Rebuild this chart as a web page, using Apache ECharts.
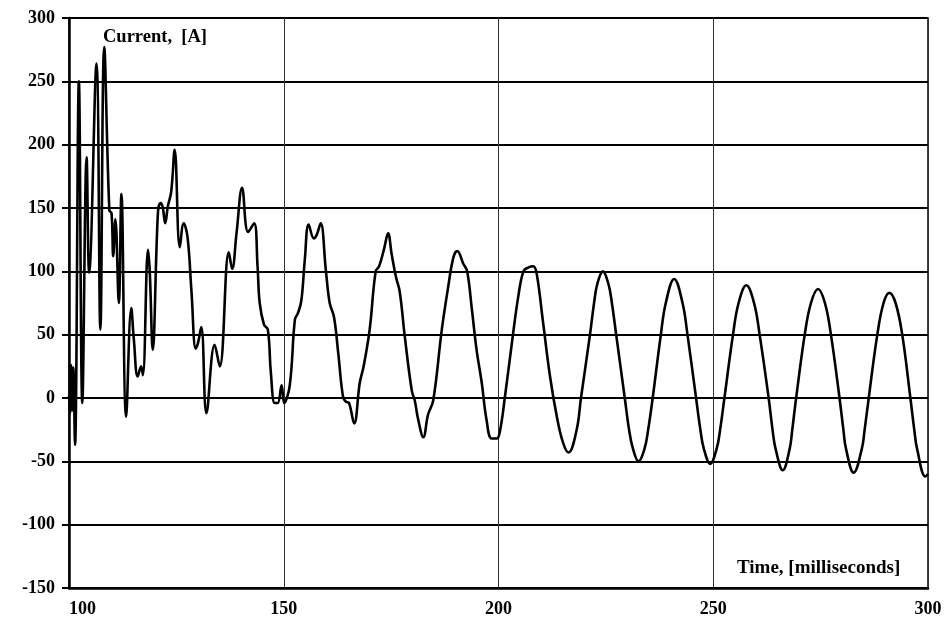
<!DOCTYPE html>
<html>
<head>
<meta charset="utf-8">
<script src="https://cdn.jsdelivr.net/npm/echarts@6/dist/echarts.min.js"></script>
<style>
  html, body { margin: 0; padding: 0; background: #fff; }
  #chart { width: 952px; height: 626px; }
</style>
</head>
<body>
<div id="chart"></div>
<script>
// Time axis samples, milliseconds
const timeMs = [
  100.0, 100.25, 100.5, 100.75, 101.0, 101.4, 102.3, 103.1, 104.1, 104.7,
  106.4, 107.3, 108.2, 109.4, 109.9, 110.3, 110.8, 111.6, 112.2, 113.3,
  114.5, 115.1, 116.0, 116.8, 117.2, 118.4, 118.8, 119.5, 120.7, 121.3,
  121.8, 122.4, 123.0, 123.8, 124.6, 125.8, 126.7, 127.6, 128.5, 129.5,
  130.0, 130.8, 132.0, 133.9, 135.1, 137.2, 138.0, 139.0, 140.3, 141.7,
  143.1, 143.9, 144.4, 145.4, 146.3, 147.0, 147.9, 148.6, 149.5, 150.1,
  151.4, 152.6, 153.3, 154.1, 154.9, 155.8, 157.0, 157.7, 158.6, 159.8,
  160.7, 161.7, 162.7, 163.8, 164.5, 165.2, 166.4, 167.7, 168.6, 170.0,
  171.4, 172.2, 173.3, 174.3, 175.1, 176.1, 177.0, 178.2, 179.8, 180.5,
  181.3, 182.5, 183.6, 184.8, 186.8, 188.3, 189.5, 190.4, 191.8, 192.7,
  193.8, 194.9, 196.1, 197.2, 198.4, 199.6, 200.4, 201.5, 203.1, 204.6,
  205.8, 206.9, 208.1, 208.9, 210.4, 212.0, 213.6, 215.0, 216.3,
  218.2, 219.2, 221.3, 222.25, 223.0, 224.3, 225.6, 226.4, 227.4, 229.4,
  230.4, 231.3, 232.6, 234.0, 234.85, 235.9, 237.8, 238.95, 240.9, 242.85,
  244.0, 246.0, 247.0, 247.8, 249.3, 250.8, 251.6, 252.6, 254.6, 255.9,
  257.7, 259.5, 260.8, 262.9, 263.8, 264.5, 266.2, 267.8, 268.4, 269.3,
  271.3, 272.75, 274.4, 276.0, 277.4, 279.4, 280.3, 280.9, 282.7, 284.6,
  285.25, 286.2, 288.2, 289.65, 291.0, 292.45, 294.0, 295.9, 296.8, 297.45,
  299.4, 300.0
];

// Measured current, amperes
const currentA = [
  2, -12, 26, -10, 24, -37, 250, -4, 190, 99,
  264, 54, 277, 148, 146, 112, 141, 75, 161, -15,
  71, 46, 17, 25, 18, 117, 100, 38, 146, 154,
  151, 138, 151, 163, 196, 119, 138, 127, 85, 39,
  43, 56, -12, 42, 25, 115, 102, 130, 166, 131,
  138, 104, 75, 58, 54, 20, -4, -4, 10, -4,
  10, 62, 67, 77, 109, 137, 126, 129, 138, 101,
  75, 64, 35, 1, -3, -4, -20, 12, 25, 54,
  100, 104, 117, 130, 114, 96, 84, 48, 6, -2,
  -17, -31, -13, -2, 54, 88, 111, 116, 106, 100,
  70, 38, 12, -17, -32, -32, -25, 1, 43, 80,
  100, 103, 104, 98, 59, 17, -15, -35, -43,
  -25, 0, 50, 75, 90, 100, 90, 75, 50, 0,
  -25, -40, -50, -40, -25, 0, 50, 75, 94, 75,
  50, 0, -25, -40, -52, -40, -25, 0, 50, 75,
  89, 75, 50, 0, -25, -40, -57, -40, -25, 0,
  50, 75, 86, 75, 50, 0, -25, -40, -59, -40,
  -25, 0, 50, 75, 83, 75, 50, 0, -25, -40,
  -62, -60
];

// Axis ranges and tick spacing
const xTicks = { min: 100, max: 300, step: 50 };
const yTicks = { min: -150, max: 300, step: 50 };

const yAxisName = 'Current,  [A]';
const xAxisName = 'Time, [milliseconds]';

const serif = "'Liberation Serif', 'Times New Roman', serif";

const points = timeMs.map((t, i) => [t, currentA[i]]);

const chart = echarts.init(document.getElementById('chart'), null, { renderer: 'canvas' });

chart.setOption({
  animation: false,
  backgroundColor: '#ffffff',
  grid: {
    left: 69, right: 24, top: 18, bottom: 38,
    show: true,
    borderColor: '#000',
    borderWidth: 1.5,
    backgroundColor: 'transparent'
  },
  title: [
    {
      text: yAxisName,
      left: 103, top: 28, padding: 0,
      textStyle: { fontFamily: serif, fontWeight: 'bold', fontSize: 18.5, color: '#000' }
    },
    {
      text: xAxisName,
      left: 737, top: 559, padding: 0,
      textStyle: { fontFamily: serif, fontWeight: 'bold', fontSize: 19, color: '#000' }
    }
  ],
  xAxis: {
    type: 'value',
    min: xTicks.min, max: xTicks.max, interval: xTicks.step,
    axisLine: { show: true, onZero: false, lineStyle: { color: '#000', width: 2.5 } },
    axisTick: { show: false },
    axisLabel: {
      margin: 12,
      fontFamily: serif, fontWeight: 'bold', fontSize: 18, color: '#000',
      alignMinLabel: 'left'
    },
    splitLine: { show: true, lineStyle: { color: '#333', width: 1 } }
  },
  yAxis: {
    type: 'value',
    min: yTicks.min, max: yTicks.max, interval: yTicks.step,
    axisLine: { show: true, onZero: false, lineStyle: { color: '#000', width: 2.5 } },
    axisTick: { show: true, inside: false, length: 7, lineStyle: { color: '#000', width: 2 } },
    axisLabel: {
      margin: 14,
      fontFamily: serif, fontWeight: 'bold', fontSize: 18, color: '#000'
    },
    splitLine: { show: true, lineStyle: { color: '#000', width: 2 } }
  },
  series: [{
    type: 'line',
    data: points,
    showSymbol: false,
    smooth: 0.4,
    clip: true,
    lineStyle: { color: '#000', width: 2.6 }
  }]
});
</script>
</body>
</html>
